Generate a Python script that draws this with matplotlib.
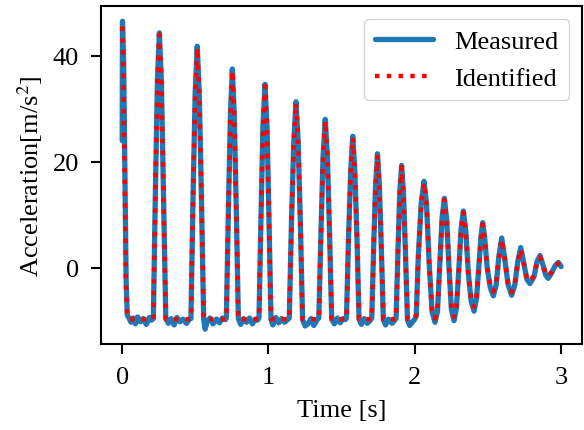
import matplotlib
matplotlib.use("Agg")
import matplotlib.pyplot as plt

plt.rcParams['font.family'] = 'serif'
plt.rcParams['font.serif'] = ['Liberation Serif', 'DejaVu Serif']
plt.rcParams['mathtext.fontset'] = 'stix'
plt.rcParams['font.size'] = 19

# measured acceleration (time [s], accel [m/s^2])
measured_t = [
    0.0, 0.002, 0.010, 0.018, 0.027, 0.035, 0.045, 0.060, 0.075, 0.090, 0.105, 0.125, 0.145, 0.165, 0.185, 0.200,
    0.213, 0.227, 0.241, 0.254, 0.268, 0.282, 0.298, 0.315, 0.335, 0.355, 0.375, 0.395, 0.415, 0.440, 0.460,
    0.470, 0.484, 0.499, 0.513, 0.527, 0.542, 0.557, 0.567, 0.580, 0.600, 0.620, 0.645, 0.665, 0.685, 0.705,
    0.712, 0.726, 0.740, 0.753, 0.766, 0.780, 0.794, 0.810, 0.830, 0.850, 0.870, 0.890, 0.910, 0.925,
    0.935, 0.949, 0.962, 0.976, 0.990, 1.003, 1.017, 1.030, 1.050, 1.070, 1.090, 1.110, 1.130,
    1.142, 1.157, 1.173, 1.188, 1.203, 1.218, 1.233, 1.250, 1.270, 1.290, 1.310, 1.335,
    1.344, 1.359, 1.373, 1.388, 1.403, 1.417, 1.432, 1.450, 1.470, 1.490, 1.510, 1.525,
    1.533, 1.547, 1.562, 1.576, 1.590, 1.605, 1.619, 1.635, 1.655, 1.675, 1.700,
    1.706, 1.719, 1.732, 1.745, 1.758, 1.771, 1.785, 1.800, 1.820, 1.845, 1.868,
    1.872, 1.885, 1.897, 1.910, 1.923, 1.936, 1.950, 1.965, 1.985, 2.000,
    2.010, 2.024, 2.044, 2.063, 2.080, 2.098, 2.118, 2.138,
    2.155, 2.170, 2.186, 2.202, 2.218, 2.234, 2.250, 2.268,
    2.284, 2.300, 2.316, 2.332, 2.348, 2.366, 2.385, 2.405,
    2.422, 2.438, 2.452, 2.464, 2.478, 2.495, 2.516, 2.537,
    2.556, 2.575, 2.594, 2.613, 2.638, 2.662,
    2.684, 2.704, 2.724, 2.744, 2.766, 2.787,
    2.815, 2.836, 2.856, 2.876, 2.895, 2.912,
    2.935, 2.960, 2.981, 3.000]
measured_a = [
    24.0, 46.5, 38.5, 19.0, -2.5, -9.0, -9.4, -10.3, -9.5, -10.6, -9.3, -10.2, -9.6, -10.7, -9.4, -9.9,
    -9.6, 14.5, 35.5, 44.3, 35.2, 14.0, -9.5, -10.5, -9.6, -10.8, -9.4, -10.2, -9.7, -10.5, -9.6,
    -9.6, 13.0, 33.0, 41.8, 32.8, 12.8, -9.8, -11.6, -10.2, -9.5, -10.6, -9.7, -10.4, -9.5, -9.8,
    -9.5, 11.0, 29.0, 37.5, 28.8, 10.8, -9.6, -10.7, -9.6, -10.3, -9.5, -10.6, -9.7, -9.9,
    -9.5, 10.0, 26.6, 34.6, 26.5, 9.7, -9.7, -10.8, -9.4, -10.4, -9.6, -10.3, -9.8,
    -9.5, 8.5, 23.7, 31.3, 23.6, 8.2, -9.8, -11.0, -10.6, -9.6, -10.9, -9.7,
    -9.5, 7.0, 20.9, 28.0, 20.8, 6.8, -9.7, -10.6, -9.5, -10.4, -9.6, -9.8,
    -9.5, 5.6, 18.4, 24.8, 18.3, 5.4, -9.7, -10.7, -9.6, -10.5, -9.8,
    -9.5, 4.1, 15.6, 21.5, 15.5, 3.9, -9.8, -10.8, -9.7, -10.5, -9.7,
    -9.6, 3.2, 14.0, 19.3, 13.9, 3.0, -9.8, -10.9, -10.2, -9.7,
    -9.1, 2.2, 12.2, 16.3, 12.1, 1.0, -8.3, -10.3,
    -8.2, 0.2, 9.2, 13.1, 9.1, 0.0, -7.8, -10.0,
    -7.8, -0.8, 7.2, 10.7, 7.1, -1.0, -6.3, -8.2,
    -5.8, 0.2, 5.7, 8.5, 5.5, 0.0, -3.8, -5.3,
    -3.3, 2.2, 5.6, 2.0, -3.2, -5.2,
    -3.2, 1.2, 3.8, 1.0, -2.2, -3.0,
    -1.7, 1.2, 2.3, 0.5, -1.4, -2.0,
    -1.0, 0.4, 1.0, 0.2]

# identified model response
identified_t = [
    0.0, 0.008, 0.017, 0.026, 0.034, 0.045, 0.200,
    0.213, 0.227, 0.241, 0.254, 0.268, 0.282, 0.298, 0.460,
    0.470, 0.484, 0.499, 0.513, 0.527, 0.542, 0.557, 0.705,
    0.712, 0.726, 0.740, 0.753, 0.766, 0.780, 0.794, 0.925,
    0.935, 0.949, 0.962, 0.976, 0.990, 1.003, 1.017, 1.130,
    1.142, 1.157, 1.173, 1.188, 1.203, 1.218, 1.233, 1.335,
    1.344, 1.359, 1.373, 1.388, 1.403, 1.417, 1.432, 1.525,
    1.533, 1.547, 1.562, 1.576, 1.590, 1.605, 1.619, 1.700,
    1.706, 1.719, 1.732, 1.745, 1.758, 1.771, 1.785, 1.868,
    1.872, 1.885, 1.897, 1.910, 1.923, 1.936, 1.950, 1.985,
    2.010, 2.024, 2.044, 2.063, 2.080, 2.098, 2.118, 2.138,
    2.155, 2.170, 2.186, 2.202, 2.218, 2.234, 2.250, 2.268,
    2.284, 2.300, 2.316, 2.332, 2.348, 2.366, 2.385, 2.405,
    2.422, 2.438, 2.452, 2.464, 2.478, 2.495, 2.516, 2.537,
    2.556, 2.575, 2.594, 2.613, 2.638, 2.662,
    2.684, 2.704, 2.724, 2.744, 2.766, 2.787,
    2.815, 2.836, 2.856, 2.876, 2.895, 2.912,
    2.935, 2.960, 2.981, 3.000]
identified_a = [
    45.5, 38.0, 18.0, -3.0, -9.3, -9.7, -9.7,
    -9.7, 14.0, 35.0, 44.0, 35.0, 14.0, -9.7, -9.7,
    -9.7, 12.8, 32.6, 41.5, 32.6, 12.8, -9.7, -9.7,
    -9.7, 10.8, 28.7, 37.2, 28.7, 10.8, -9.7, -9.7,
    -9.7, 9.7, 26.4, 34.3, 26.4, 9.7, -9.7, -9.7,
    -9.7, 8.2, 23.5, 31.0, 23.5, 8.2, -9.7, -9.7,
    -9.7, 6.8, 20.7, 27.7, 20.7, 6.8, -9.7, -9.7,
    -9.7, 5.4, 18.2, 24.5, 18.2, 5.4, -9.7, -9.7,
    -9.7, 3.9, 15.4, 21.3, 15.4, 3.9, -9.7, -9.7,
    -9.7, 3.0, 13.7, 19.0, 13.7, 3.0, -9.7, -9.8,
    -9.0, 2.0, 12.0, 16.0, 12.0, 1.0, -8.0, -9.6,
    -8.0, 0.0, 9.0, 12.8, 9.0, 0.0, -7.5, -9.3,
    -7.5, -1.0, 7.0, 10.4, 7.0, -1.0, -6.0, -7.4,
    -5.5, 0.0, 5.5, 8.2, 5.5, 0.0, -3.5, -4.5,
    -3.0, 2.0, 5.3, 2.0, -3.0, -4.6,
    -3.0, 1.0, 3.5, 1.0, -2.0, -2.6,
    -1.5, 1.0, 2.0, 0.5, -1.2, -1.6,
    -0.8, 0.3, 0.8, 0.1]

fig, ax = plt.subplots(figsize=(5.84, 4.31), dpi=100)
fig.subplots_adjust(left=0.1724, right=0.9966, top=0.984, bottom=0.1995)

ax.plot(measured_t, measured_a, color='#1f77b4', lw=3.8, solid_joinstyle='round',
        solid_capstyle='round', label='Measured')
ax.plot(identified_t, identified_a, color='red', lw=3.2, ls=':', label='Identified')

ax.set_xlim(-0.147, 3.143)
ax.set_ylim(-14.4, 49.4)
ax.set_xticks([0, 1, 2, 3])
ax.set_yticks([0, 20, 40])
ax.set_xlabel('Time [s]', labelpad=8.3)
ax.set_ylabel('Acceleration[m/s$^2$]', labelpad=5.5)

for s in ax.spines.values():
    s.set_linewidth(1.5)
ax.tick_params(width=1.5, length=7.2, pad=8.5, labelsize=19)

ax.legend(loc='upper right', fontsize=19, handlelength=2.2)

fig.savefig('out.png', dpi=100)
